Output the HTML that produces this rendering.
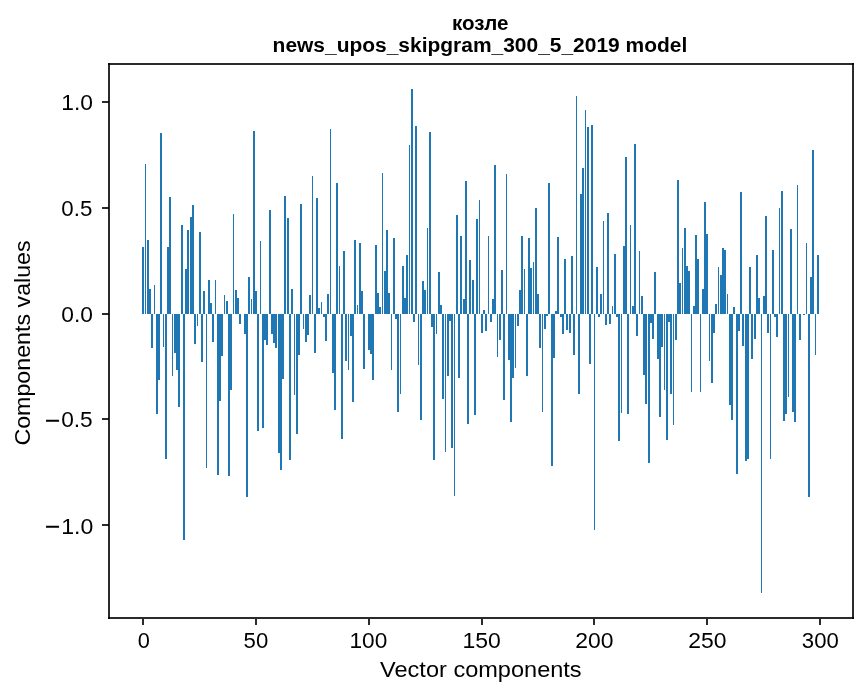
<!DOCTYPE html>
<html><head><meta charset="utf-8"><title>козле</title><style>
html,body{margin:0;padding:0;background:#fff;overflow:hidden;}
svg{display:block;will-change:transform;}
text{font-family:"Liberation Sans", sans-serif;}
</style></head><body>
<svg width="867" height="696" viewBox="0 0 867 696">
<rect x="0" y="0" width="867" height="696" fill="#fff"/>
<g fill="#1f77b4" shape-rendering="crispEdges">
<rect x="142" y="247" width="2" height="67.0"/>
<rect x="145" y="164" width="1" height="150.0"/>
<rect x="147" y="240" width="2" height="74.0"/>
<rect x="149" y="289" width="2" height="25.0"/>
<rect x="151" y="314.0" width="2" height="34.0"/>
<rect x="154" y="285" width="1" height="29.0"/>
<rect x="156" y="314.0" width="2" height="100.0"/>
<rect x="158" y="314.0" width="2" height="66.0"/>
<rect x="160" y="133" width="2" height="181.0"/>
<rect x="163" y="314.0" width="1" height="33.0"/>
<rect x="165" y="314.0" width="2" height="145.0"/>
<rect x="167" y="247" width="2" height="67.0"/>
<rect x="169" y="197" width="2" height="117.0"/>
<rect x="172" y="314.0" width="1" height="62.0"/>
<rect x="174" y="314.0" width="2" height="39.0"/>
<rect x="176" y="314.0" width="2" height="56.0"/>
<rect x="178" y="314.0" width="2" height="93.0"/>
<rect x="181" y="225" width="2" height="89.0"/>
<rect x="183" y="314.0" width="2" height="226.0"/>
<rect x="185" y="269" width="2" height="45.0"/>
<rect x="187" y="230" width="2" height="84.0"/>
<rect x="190" y="217" width="2" height="97.0"/>
<rect x="192" y="205" width="2" height="109.0"/>
<rect x="194" y="314.0" width="2" height="30.0"/>
<rect x="197" y="314.0" width="1" height="12.0"/>
<rect x="199" y="232" width="2" height="82.0"/>
<rect x="201" y="314.0" width="2" height="48.0"/>
<rect x="203" y="291" width="2" height="23.0"/>
<rect x="206" y="314.0" width="1" height="154.0"/>
<rect x="208" y="280" width="2" height="34.0"/>
<rect x="210" y="303" width="2" height="11.0"/>
<rect x="212" y="314.0" width="2" height="28.0"/>
<rect x="215" y="280" width="1" height="34.0"/>
<rect x="217" y="314.0" width="2" height="161.0"/>
<rect x="219" y="314.0" width="2" height="87.0"/>
<rect x="221" y="314.0" width="2" height="42.0"/>
<rect x="224" y="295" width="1" height="19.0"/>
<rect x="226" y="301" width="2" height="13.0"/>
<rect x="228" y="314.0" width="2" height="162.0"/>
<rect x="230" y="314.0" width="2" height="76.0"/>
<rect x="233" y="214" width="1" height="100.0"/>
<rect x="235" y="290" width="2" height="24.0"/>
<rect x="237" y="298" width="2" height="16.0"/>
<rect x="239" y="314.0" width="2" height="10.0"/>
<rect x="244" y="314.0" width="2" height="20.0"/>
<rect x="246" y="314.0" width="2" height="183.0"/>
<rect x="248" y="277" width="2" height="37.0"/>
<rect x="251" y="299" width="1" height="15.0"/>
<rect x="253" y="131" width="2" height="183.0"/>
<rect x="255" y="291" width="2" height="23.0"/>
<rect x="257" y="314.0" width="2" height="117.0"/>
<rect x="260" y="241" width="1" height="73.0"/>
<rect x="262" y="314.0" width="2" height="114.0"/>
<rect x="264" y="314.0" width="2" height="26.0"/>
<rect x="266" y="314.0" width="2" height="31.0"/>
<rect x="269" y="210" width="2" height="104.0"/>
<rect x="271" y="314.0" width="2" height="20.0"/>
<rect x="273" y="314.0" width="2" height="29.0"/>
<rect x="275" y="314.0" width="2" height="34.0"/>
<rect x="278" y="314.0" width="2" height="139.0"/>
<rect x="280" y="314.0" width="2" height="156.0"/>
<rect x="282" y="314.0" width="2" height="65.0"/>
<rect x="284" y="196" width="2" height="118.0"/>
<rect x="287" y="218" width="2" height="96.0"/>
<rect x="289" y="314.0" width="2" height="146.0"/>
<rect x="291" y="289" width="2" height="25.0"/>
<rect x="294" y="314.0" width="1" height="81.0"/>
<rect x="296" y="314.0" width="2" height="120.0"/>
<rect x="298" y="314.0" width="2" height="41.0"/>
<rect x="300" y="204" width="2" height="110.0"/>
<rect x="303" y="314.0" width="1" height="15.0"/>
<rect x="305" y="314.0" width="2" height="28.0"/>
<rect x="307" y="314.0" width="2" height="21.0"/>
<rect x="309" y="295" width="2" height="19.0"/>
<rect x="312" y="176" width="1" height="138.0"/>
<rect x="314" y="314.0" width="2" height="39.0"/>
<rect x="316" y="198" width="2" height="116.0"/>
<rect x="318" y="308" width="2" height="6.0"/>
<rect x="321" y="302" width="1" height="12.0"/>
<rect x="323" y="314.0" width="2" height="3.0"/>
<rect x="325" y="314.0" width="2" height="27.0"/>
<rect x="327" y="294" width="2" height="20.0"/>
<rect x="330" y="129" width="1" height="185.0"/>
<rect x="332" y="314.0" width="2" height="59.0"/>
<rect x="334" y="314.0" width="2" height="96.0"/>
<rect x="336" y="183" width="2" height="131.0"/>
<rect x="339" y="266" width="1" height="48.0"/>
<rect x="341" y="314.0" width="2" height="125.0"/>
<rect x="343" y="251" width="2" height="63.0"/>
<rect x="345" y="314.0" width="2" height="47.0"/>
<rect x="348" y="314.0" width="1" height="56.0"/>
<rect x="350" y="314.0" width="2" height="22.0"/>
<rect x="352" y="314.0" width="2" height="88.0"/>
<rect x="354" y="240" width="2" height="74.0"/>
<rect x="357" y="305" width="1" height="9.0"/>
<rect x="359" y="243" width="2" height="71.0"/>
<rect x="361" y="291" width="2" height="23.0"/>
<rect x="363" y="314.0" width="2" height="55.0"/>
<rect x="368" y="314.0" width="2" height="36.0"/>
<rect x="370" y="314.0" width="2" height="40.0"/>
<rect x="372" y="314.0" width="2" height="66.0"/>
<rect x="375" y="245" width="2" height="69.0"/>
<rect x="377" y="293" width="2" height="21.0"/>
<rect x="379" y="307" width="2" height="7.0"/>
<rect x="382" y="173" width="1" height="141.0"/>
<rect x="384" y="271" width="2" height="43.0"/>
<rect x="386" y="230" width="2" height="84.0"/>
<rect x="388" y="293" width="2" height="21.0"/>
<rect x="391" y="314.0" width="1" height="56.0"/>
<rect x="393" y="238" width="2" height="76.0"/>
<rect x="395" y="314.0" width="2" height="5.0"/>
<rect x="397" y="314.0" width="2" height="98.0"/>
<rect x="400" y="314.0" width="1" height="80.0"/>
<rect x="402" y="266" width="2" height="48.0"/>
<rect x="404" y="298" width="2" height="16.0"/>
<rect x="406" y="255" width="2" height="59.0"/>
<rect x="409" y="145" width="1" height="169.0"/>
<rect x="411" y="89" width="2" height="225.0"/>
<rect x="413" y="314.0" width="2" height="8.0"/>
<rect x="415" y="126" width="2" height="188.0"/>
<rect x="418" y="314.0" width="1" height="51.0"/>
<rect x="420" y="314.0" width="2" height="106.0"/>
<rect x="422" y="281" width="2" height="33.0"/>
<rect x="424" y="290" width="2" height="24.0"/>
<rect x="427" y="228" width="1" height="86.0"/>
<rect x="429" y="132" width="2" height="182.0"/>
<rect x="431" y="314.0" width="2" height="13.0"/>
<rect x="433" y="314.0" width="2" height="146.0"/>
<rect x="436" y="314.0" width="1" height="20.0"/>
<rect x="438" y="272" width="2" height="42.0"/>
<rect x="440" y="305" width="2" height="9.0"/>
<rect x="442" y="314.0" width="2" height="85.0"/>
<rect x="445" y="314.0" width="1" height="138.0"/>
<rect x="447" y="314.0" width="2" height="62.0"/>
<rect x="449" y="314.0" width="2" height="7.0"/>
<rect x="451" y="314.0" width="2" height="134.0"/>
<rect x="454" y="314.0" width="1" height="182.0"/>
<rect x="456" y="215" width="2" height="99.0"/>
<rect x="458" y="314.0" width="2" height="64.0"/>
<rect x="460" y="236" width="2" height="78.0"/>
<rect x="463" y="299" width="2" height="15.0"/>
<rect x="465" y="181" width="2" height="133.0"/>
<rect x="467" y="314.0" width="2" height="110.0"/>
<rect x="469" y="260" width="2" height="54.0"/>
<rect x="472" y="280" width="2" height="34.0"/>
<rect x="474" y="314.0" width="2" height="101.0"/>
<rect x="476" y="219" width="2" height="95.0"/>
<rect x="479" y="200" width="1" height="114.0"/>
<rect x="481" y="314.0" width="2" height="19.0"/>
<rect x="483" y="310" width="2" height="4.0"/>
<rect x="485" y="314.0" width="2" height="17.0"/>
<rect x="488" y="236" width="1" height="78.0"/>
<rect x="490" y="314.0" width="2" height="8.0"/>
<rect x="492" y="299" width="2" height="15.0"/>
<rect x="494" y="165" width="2" height="149.0"/>
<rect x="497" y="314.0" width="1" height="43.0"/>
<rect x="499" y="314.0" width="2" height="26.0"/>
<rect x="501" y="270" width="2" height="44.0"/>
<rect x="503" y="314.0" width="2" height="86.0"/>
<rect x="506" y="174" width="1" height="140.0"/>
<rect x="508" y="314.0" width="2" height="46.0"/>
<rect x="510" y="314.0" width="2" height="108.0"/>
<rect x="512" y="314.0" width="2" height="64.0"/>
<rect x="515" y="314.0" width="1" height="54.0"/>
<rect x="517" y="314.0" width="2" height="12.0"/>
<rect x="519" y="290" width="2" height="24.0"/>
<rect x="521" y="236" width="2" height="78.0"/>
<rect x="524" y="269" width="1" height="45.0"/>
<rect x="526" y="314.0" width="2" height="62.0"/>
<rect x="528" y="238" width="2" height="76.0"/>
<rect x="530" y="268" width="2" height="46.0"/>
<rect x="533" y="262" width="1" height="52.0"/>
<rect x="535" y="208" width="2" height="106.0"/>
<rect x="537" y="294" width="2" height="20.0"/>
<rect x="539" y="314.0" width="2" height="34.0"/>
<rect x="542" y="314.0" width="1" height="98.0"/>
<rect x="544" y="314.0" width="2" height="15.0"/>
<rect x="546" y="314.0" width="2" height="2.0"/>
<rect x="548" y="183" width="2" height="131.0"/>
<rect x="551" y="314.0" width="2" height="152.0"/>
<rect x="553" y="314.0" width="2" height="44.0"/>
<rect x="555" y="311" width="2" height="3.0"/>
<rect x="557" y="237" width="2" height="77.0"/>
<rect x="560" y="314.0" width="2" height="3.0"/>
<rect x="562" y="314.0" width="2" height="20.0"/>
<rect x="564" y="259" width="2" height="55.0"/>
<rect x="566" y="314.0" width="2" height="16.0"/>
<rect x="569" y="314.0" width="2" height="19.0"/>
<rect x="571" y="256" width="2" height="58.0"/>
<rect x="573" y="314.0" width="2" height="41.0"/>
<rect x="576" y="96" width="1" height="218.0"/>
<rect x="578" y="314.0" width="2" height="80.0"/>
<rect x="580" y="194" width="2" height="120.0"/>
<rect x="582" y="168" width="2" height="146.0"/>
<rect x="585" y="110" width="1" height="204.0"/>
<rect x="587" y="127" width="2" height="187.0"/>
<rect x="589" y="314.0" width="2" height="50.0"/>
<rect x="591" y="125" width="2" height="189.0"/>
<rect x="594" y="314.0" width="1" height="216.0"/>
<rect x="596" y="267" width="2" height="47.0"/>
<rect x="598" y="314.0" width="2" height="3.0"/>
<rect x="600" y="294" width="2" height="20.0"/>
<rect x="603" y="221" width="1" height="93.0"/>
<rect x="605" y="314.0" width="2" height="11.0"/>
<rect x="607" y="213" width="2" height="101.0"/>
<rect x="609" y="314.0" width="2" height="10.0"/>
<rect x="612" y="306" width="1" height="8.0"/>
<rect x="614" y="254" width="2" height="60.0"/>
<rect x="616" y="314.0" width="2" height="3.0"/>
<rect x="618" y="314.0" width="2" height="127.0"/>
<rect x="621" y="314.0" width="1" height="99.0"/>
<rect x="623" y="246" width="2" height="68.0"/>
<rect x="625" y="157" width="2" height="157.0"/>
<rect x="627" y="314.0" width="2" height="100.0"/>
<rect x="630" y="225" width="1" height="89.0"/>
<rect x="632" y="306" width="2" height="8.0"/>
<rect x="634" y="144" width="2" height="170.0"/>
<rect x="636" y="314.0" width="2" height="22.0"/>
<rect x="639" y="251" width="1" height="63.0"/>
<rect x="641" y="296" width="2" height="18.0"/>
<rect x="643" y="314.0" width="2" height="61.0"/>
<rect x="645" y="314.0" width="2" height="90.0"/>
<rect x="648" y="314.0" width="2" height="149.0"/>
<rect x="650" y="314.0" width="2" height="9.0"/>
<rect x="652" y="314.0" width="2" height="25.0"/>
<rect x="654" y="272" width="2" height="42.0"/>
<rect x="657" y="314.0" width="2" height="45.0"/>
<rect x="659" y="314.0" width="2" height="103.0"/>
<rect x="661" y="314.0" width="2" height="33.0"/>
<rect x="664" y="314.0" width="1" height="76.0"/>
<rect x="666" y="314.0" width="2" height="126.0"/>
<rect x="668" y="314.0" width="2" height="8.0"/>
<rect x="670" y="314.0" width="2" height="80.0"/>
<rect x="673" y="314.0" width="1" height="111.0"/>
<rect x="675" y="314.0" width="2" height="26.0"/>
<rect x="677" y="180" width="2" height="134.0"/>
<rect x="679" y="283" width="2" height="31.0"/>
<rect x="682" y="248" width="1" height="66.0"/>
<rect x="684" y="228" width="2" height="86.0"/>
<rect x="686" y="266" width="2" height="48.0"/>
<rect x="688" y="271" width="2" height="43.0"/>
<rect x="691" y="314.0" width="1" height="78.0"/>
<rect x="693" y="306" width="2" height="8.0"/>
<rect x="695" y="235" width="2" height="79.0"/>
<rect x="697" y="259" width="2" height="55.0"/>
<rect x="700" y="314.0" width="1" height="78.0"/>
<rect x="702" y="289" width="2" height="25.0"/>
<rect x="704" y="202" width="2" height="112.0"/>
<rect x="706" y="234" width="2" height="80.0"/>
<rect x="709" y="314.0" width="1" height="47.0"/>
<rect x="711" y="314.0" width="2" height="69.0"/>
<rect x="713" y="314.0" width="2" height="19.0"/>
<rect x="715" y="304" width="2" height="10.0"/>
<rect x="718" y="267" width="1" height="47.0"/>
<rect x="720" y="275" width="2" height="39.0"/>
<rect x="722" y="248" width="2" height="66.0"/>
<rect x="724" y="250" width="2" height="64.0"/>
<rect x="727" y="294" width="1" height="20.0"/>
<rect x="729" y="314.0" width="2" height="91.0"/>
<rect x="731" y="314.0" width="2" height="106.0"/>
<rect x="733" y="307" width="2" height="7.0"/>
<rect x="736" y="314.0" width="2" height="160.0"/>
<rect x="738" y="314.0" width="2" height="17.0"/>
<rect x="740" y="192" width="2" height="122.0"/>
<rect x="742" y="314.0" width="2" height="32.0"/>
<rect x="745" y="314.0" width="2" height="147.0"/>
<rect x="747" y="314.0" width="2" height="145.0"/>
<rect x="749" y="267" width="2" height="47.0"/>
<rect x="751" y="314.0" width="2" height="45.0"/>
<rect x="754" y="314.0" width="2" height="25.0"/>
<rect x="756" y="255" width="2" height="59.0"/>
<rect x="758" y="298" width="2" height="16.0"/>
<rect x="761" y="314.0" width="1" height="279.0"/>
<rect x="763" y="296" width="2" height="18.0"/>
<rect x="765" y="216" width="2" height="98.0"/>
<rect x="767" y="314.0" width="2" height="19.0"/>
<rect x="770" y="314.0" width="1" height="145.0"/>
<rect x="772" y="250" width="2" height="64.0"/>
<rect x="774" y="314.0" width="2" height="3.0"/>
<rect x="776" y="314.0" width="2" height="23.0"/>
<rect x="779" y="208" width="1" height="106.0"/>
<rect x="781" y="191" width="2" height="123.0"/>
<rect x="783" y="314.0" width="2" height="107.0"/>
<rect x="785" y="314.0" width="2" height="100.0"/>
<rect x="788" y="314.0" width="1" height="83.0"/>
<rect x="790" y="229" width="2" height="85.0"/>
<rect x="792" y="314.0" width="2" height="98.0"/>
<rect x="794" y="314.0" width="2" height="108.0"/>
<rect x="797" y="185" width="1" height="129.0"/>
<rect x="799" y="314.0" width="2" height="26.0"/>
<rect x="803" y="314.0" width="2" height="1.0"/>
<rect x="806" y="243" width="1" height="71.0"/>
<rect x="808" y="314.0" width="2" height="183.0"/>
<rect x="810" y="277" width="2" height="37.0"/>
<rect x="812" y="150" width="2" height="164.0"/>
<rect x="815" y="314.0" width="1" height="41.0"/>
<rect x="817" y="255" width="2" height="59.0"/>
</g>
<g fill="#000" fill-opacity="0.833" shape-rendering="crispEdges">
<rect x="108" y="63" width="2" height="556"/>
<rect x="852" y="63" width="2" height="556"/>
<rect x="108" y="63" width="746" height="2"/>
<rect x="108" y="617" width="746" height="2"/>
<rect x="102" y="101" width="7" height="2"/>
<rect x="102" y="207" width="7" height="2"/>
<rect x="102" y="313" width="7" height="2"/>
<rect x="102" y="418" width="7" height="2"/>
<rect x="102" y="524" width="7" height="2"/>
<rect x="142" y="619" width="2" height="6"/>
<rect x="255" y="619" width="2" height="6"/>
<rect x="368" y="619" width="2" height="6"/>
<rect x="481" y="619" width="2" height="6"/>
<rect x="593" y="619" width="2" height="6"/>
<rect x="706" y="619" width="2" height="6"/>
<rect x="819" y="619" width="2" height="6"/>
</g>
<g fill="#000">
<text x="61.26" y="110.40" font-size="21.8" textLength="31.73" lengthAdjust="spacingAndGlyphs">1.0</text>
<text x="61.33" y="216.30" font-size="21.8" textLength="31.01" lengthAdjust="spacingAndGlyphs">0.5</text>
<text x="61.31" y="321.50" font-size="21.8" textLength="31.68" lengthAdjust="spacingAndGlyphs">0.0</text>
<text font-size="21.8"><tspan x="44.98" y="428.25" textLength="15.03" lengthAdjust="spacingAndGlyphs" stroke="#000" stroke-width="0.5">−</tspan><tspan x="61.18" y="427.30" textLength="31.57" lengthAdjust="spacingAndGlyphs">0.5</tspan></text>
<text font-size="21.8"><tspan x="44.98" y="534.25" textLength="15.03" lengthAdjust="spacingAndGlyphs" stroke="#000" stroke-width="0.5">−</tspan><tspan x="61.24" y="533.55" textLength="32.06" lengthAdjust="spacingAndGlyphs">1.0</tspan></text>
<text x="137.65" y="648.30" font-size="21.8" textLength="12.10" lengthAdjust="spacingAndGlyphs">0</text>
<text x="243.61" y="648.30" font-size="21.8" textLength="24.65" lengthAdjust="spacingAndGlyphs">50</text>
<text x="349.47" y="648.30" font-size="21.8" textLength="37.81" lengthAdjust="spacingAndGlyphs">100</text>
<text x="462.55" y="648.30" font-size="21.8" textLength="38.35" lengthAdjust="spacingAndGlyphs">150</text>
<text x="575.15" y="648.30" font-size="21.8" textLength="38.25" lengthAdjust="spacingAndGlyphs">200</text>
<text x="688.15" y="648.30" font-size="21.8" textLength="38.25" lengthAdjust="spacingAndGlyphs">250</text>
<text x="801.86" y="648.30" font-size="21.8" textLength="36.91" lengthAdjust="spacingAndGlyphs">300</text>
<text x="380.10" y="677.00" font-size="21.8" textLength="201.55" lengthAdjust="spacingAndGlyphs">Vector components</text>
<text transform="translate(30.10,445.58) rotate(-90)" font-size="21.8" textLength="205.22" lengthAdjust="spacingAndGlyphs">Components values</text>
<text x="451.90" y="29.84" font-size="20.3" textLength="56.49" lengthAdjust="spacingAndGlyphs" font-weight="bold">козле</text>
<text x="272.62" y="51.70" font-size="20.3" textLength="414.66" lengthAdjust="spacingAndGlyphs" font-weight="bold">news_upos_skipgram_300_5_2019 model</text>
</g>
</svg>
</body></html>
